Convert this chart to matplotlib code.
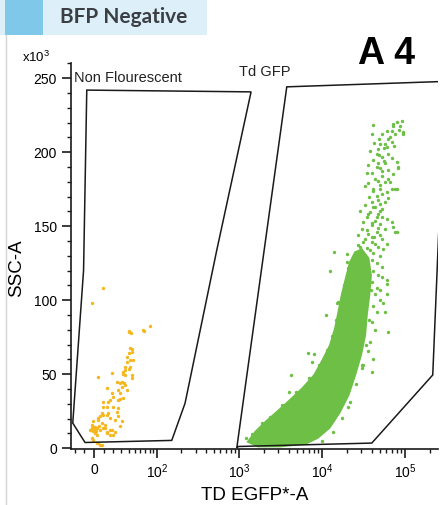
import numpy as np
import matplotlib.pyplot as plt
from matplotlib.patches import Rectangle
from matplotlib.lines import Line2D
from matplotlib.ticker import FixedLocator, NullFormatter

plt.rcParams['font.family'] = ['Liberation Sans', 'DejaVu Sans']
plt.rcParams['mathtext.fontset'] = 'custom'
plt.rcParams['mathtext.rm'] = 'Liberation Sans'

# ---- data (TD EGFP*-A, SSC-A in x10^3) ----
# orange: non fluorescent events (linear FITC values)
orange_fitc = [-2.3, 8.8, 39.9, 44.2, 67.5, 81.4, 45.3, 39.9, 47, 37.5, 42.5, 35, 32.7, 45.3,
               4.3, 18.4, 30.5, 35, 24.2, 37.5, 12.9, 28.3, 20.2, 26.1, 32.7, 14.7, 9.4, 20.2,
               26.1, 7.7, 12.9, 4.3, 16.5, 26.1, 30.5, -0.7, 7.7, -2.3, 1.0, 6.0, 11.2, 16.5,
               22.2, 12.9, 28.3, 2.7, -0.7, 4.3, 7.7, -4, -1.5, 0, 2, -1, 1, 11.2, 9.4, 12.9,
               16.5, 20.2, 18.4, 4.3, 6.0, 9.4, 14.7, 22.2, 24.2, 12.9, 9.4, 16.5, 28.3, 18.4,
               26.1, 30.5, 33.5, 28.3, 35, 32.7, 39.9, 35, 45.3, 42.5, 37.5, 45.3, 42.5, 39.9,
               66, -2.3, 2.7, 6.0, -3, 3, 0.5, 5, -2]
orange_ssc = [97.8, 108.2, 79.3, 77.6, 79.3, 82.5, 66.8, 64.1, 59.6, 58.5, 54.7, 52.8, 50.2, 47.3,
              48.3, 51, 45, 42.7, 45, 39.3, 40.6, 37.2, 34.9, 32.7, 33.8, 31.5, 28.1, 28.1,
              27.1, 23.7, 22.6, 20.3, 20.3, 21.5, 18.1, 18.1, 17, 13.6, 12.5, 12.5, 13.6, 12.5,
              11.3, 10.2, 14.7, 9.1, 5.7, 3.5, 2.3, 12.5, 14.1, 13.1, 11.8, 11.8, 14.2, 15.8, 13.6, 11.3,
              9.1, 9.1, 12.5, 19.2, 21.5, 22.6, 23.7, 19.2, 24.8, 28.1, 31.5, 32.7, 33.1, 37.2,
              39.3, 41.2, 44, 44, 49.5, 51.7, 53.4, 55.1, 49.5, 59.6, 61.8, 65.2, 67.9, 78.7,
              79.8, 6.8, 3.5, 2.3, 12, 13.5, 10.5, 15, 15.5]

# green: Td GFP events, sparse points (log10 of FITC value)
green_log = [4.90, 4.94, 4.86, 4.84, 4.60, 4.72, 4.88, 4.98, 4.80, 4.70, 4.76, 4.84, 4.67, 4.78,
             4.66, 4.72, 4.67, 4.90, 4.76, 4.92, 4.70, 4.54, 4.73, 4.67, 4.80, 4.82, 4.52, 4.61,
             4.70, 4.84, 4.88, 4.66, 4.73, 4.80, 4.60, 4.70, 4.64, 4.73, 4.46, 4.58, 4.67, 4.54,
             4.64, 4.73, 4.60, 4.70, 4.84, 4.54, 4.66, 4.86, 4.90, 4.44, 4.60, 4.72, 4.50, 4.64,
             4.46, 4.58, 4.74, 4.14, 4.30, 4.40, 4.50, 4.30, 4.38, 4.72, 4.34, 4.72, 4.30, 4.78,
             4.70, 4.28, 4.78, 4.20, 4.74, 4.96, 4.98, 4.92, 4.90, 4.88, 4.78, 4.76, 4.80, 3.83,
             3.63, 4.60, 4.49, 4.18, 4.48, 4.32, 3.09, 3.88,
             3.16, 3.28, 3.37, 3.52, 3.69, 3.84, 3.96, 4.06, 4.12, 4.17, 4.22, 4.27, 4.31,
             4.59, 4.57, 4.53, 4.48, 4.41, 4.34, 4.24, 4.13, 4.00,
             4.62, 4.86, 4.93, 4.78, 4.69, 4.82, 4.63, 4.75, 4.87, 4.58, 4.69, 4.80, 4.62, 4.75,
             4.84, 4.56, 4.66, 4.80, 4.60, 4.72, 4.86, 4.64, 4.76, 4.55, 4.70, 4.62, 4.78, 4.57,
             4.68, 4.76, 4.52, 4.62, 4.70, 4.56, 4.66, 4.78, 4.50, 4.60, 4.68, 4.76, 4.48, 4.56,
             4.63, 4.70, 4.52, 4.60, 4.67, 4.78, 4.44, 4.54, 4.62, 4.70, 4.42, 4.50, 4.60, 4.66,
             4.46, 4.56, 4.62, 4.68, 4.40, 4.50, 4.60, 4.66, 4.36, 4.64, 4.70, 4.62, 4.66, 4.60,
             4.64, 4.58, 4.55, 4.62,
             4.10, 4.05, 3.90, 3.60]
green_ssc = [220.1, 217.8, 217.8, 214.4, 212.4, 212.4, 212.4, 212.4, 209.1, 205.8, 205.8, 206.6,
             202.4, 203.2, 199, 196.5, 192.5, 193.1, 192.5, 189.2, 189.2, 185.8, 184.2, 180.8,
             182.1, 179.5, 177.4, 175.4, 175.4, 175.4, 175.4, 170.7, 172, 168.7, 166.2, 165.3,
             162.8, 161.9, 160.4, 159.5, 158.5, 156.1, 153.8, 156.1, 150.5, 151.8, 152.7, 147.1,
             146, 149.3, 146, 143.8, 142.6, 141.6, 139.2, 138.2, 135.8, 133.7, 134.8, 132.6,
             131.4, 129.2, 128.1, 125.8, 122.4, 122.4, 118, 115.7, 111.2, 111.2, 106.7, 104.5,
             104.5, 98.8, 97.8, 221.2, 213.3, 189.7, 175.4, 146, 113.4, 92.1, 78.7, 64.1,
             49.5, 51.7, 56.2, 97.8, 54, 28.1, 6.8, 58.5,
             9.8, 17.2, 21.2, 29.3, 38, 47.5, 56.2, 66.3, 75.8, 86.5, 98, 110.1, 121.5,
             106.7, 86.5, 69.7, 56.2, 43.4, 31.3, 20.5, 11.1, 5.1,
             218, 219, 215, 214, 209, 210, 206, 203, 204, 201, 198, 199, 195, 194,
             196, 191, 190, 188, 186, 187, 185, 182, 180, 179, 178, 174, 173, 170,
             168, 166, 164, 163, 160, 158, 156, 155, 153, 152, 149, 148, 148, 145,
             143, 144, 141, 139, 136, 138, 137, 135, 132, 130, 131, 129, 127, 125,
             124, 122, 120, 117, 119, 117, 112, 108, 113, 104, 100, 96, 92, 85,
             80, 72, 66, 60,
             120, 90, 64, 38]

# green: outline of the dense body (log10 FITC, SSC)
dense_log = [3.11, 3.20, 3.31, 3.46, 3.62, 3.77, 3.91, 4.01, 4.10, 4.16, 4.20, 4.24, 4.29, 4.34,
             4.40, 4.48, 4.56, 4.59, 4.57, 4.54, 4.52, 4.47, 4.40, 4.32, 4.21, 4.09, 3.95, 3.80,
             3.50, 3.23]
dense_ssc = [4.4, 11.1, 17.2, 24.6, 32.7, 40.7, 49.5, 59.6, 69.7, 81.1, 91.9, 103.4, 114.8, 125.6,
             132.3, 134.3, 128.3, 116.8, 103.4, 89.9, 76.4, 62.9, 49.5, 36, 23.9, 13.8, 7.1, 3,
             1.3, 1.3]

# gates
gate1_x = [-7.3, -10.6, -22.5, -9.1, 153.3, 223.3, 540.7, 1402]
gate1_y = [241.9, 120.2, 17, 3.9, 5.3, 30.4, 133.7, 240.7]
gate2_x = [943, 3776, 400000, 255000, 216500, 39900, 985]
gate2_y = [0.1, 244.1, 248, 145, 49.5, 3.5, 1.2]

xticks_major = [0, 1e2, 1e3, 1e4, 1e5]
xtick_labels = ['0', r'$\mathregular{10^2}$', r'$\mathregular{10^3}$',
                r'$\mathregular{10^4}$', r'$\mathregular{10^5}$']
xticks_minor = [-20, -10, 10, 20, 30, 40, 50, 60, 70, 80, 90] + \
    [m * 10 ** k for k in (2, 3, 4) for m in range(2, 10)] + [2e5]
yticks_major = [0, 50, 100, 150, 200, 250]

GREEN = '#6dbf45'
ORANGE = '#f4b71e'

W, H = 448, 505
fig = plt.figure(figsize=(W / 100, H / 100), dpi=100)
ax = fig.add_axes([71 / W, 1 - 449 / H, (437.5 - 71) / W, (449 - 63.3) / H])

C = 36.0
def fwd(x):
    return np.arcsinh(np.asarray(x) / C) / np.log(10)
def inv(u):
    return C * np.sinh(np.asarray(u) * np.log(10))
ax.set_xscale('function', functions=(fwd, inv))
ax.set_xlim(-24.6, 247000)
ax.set_ylim(-0.5, 260)

# events
ax.fill(10 ** np.array(dense_log), dense_ssc, color=GREEN, lw=1.5, zorder=2)
ax.scatter(10 ** np.array(green_log), green_ssc, s=6, color=GREEN, lw=0, zorder=2)
ax.scatter(orange_fitc, orange_ssc, s=6, color=ORANGE, lw=0, zorder=2)

# gates
ax.fill(gate1_x, gate1_y, fill=False, ec='#1a1a1a', lw=1.1, zorder=3)
ax.fill(gate2_x, gate2_y, fill=False, ec='#1a1a1a', lw=1.1, zorder=3)
ax.text(-21.6, 250.2, 'Non Flourescent', fontsize=10.5, ha='left', va='center', color='#222222')
ax.text(1000, 254, 'Td GFP', fontsize=10.5, ha='left', va='center', color='#222222')

# axes styling
for s in ('top', 'right'):
    ax.spines[s].set_visible(False)
for s in ('left', 'bottom'):
    ax.spines[s].set_linewidth(1.2)
    ax.spines[s].set_color('#1a1a1a')
ax.xaxis.set_major_locator(FixedLocator(xticks_major))
ax.set_xticklabels(xtick_labels)
ax.xaxis.set_minor_locator(FixedLocator(xticks_minor))
ax.xaxis.set_minor_formatter(NullFormatter())
ax.yaxis.set_major_locator(FixedLocator(yticks_major))
ax.yaxis.set_minor_locator(FixedLocator(np.arange(0, 261, 10)))
ax.tick_params(which='major', length=6.5, width=1.2, labelsize=10, pad=3.5, color='#1a1a1a')
ax.tick_params(which='minor', length=3, width=1.0, color='#1a1a1a')
ax.set_xlabel('TD EGFP*-A', fontsize=13.5, labelpad=4)
ax.set_ylabel('SSC-A', fontsize=13.5, labelpad=6)
ax.yaxis.set_label_coords(-0.125, 0.47)

# panel header and labels
fig.add_artist(Rectangle((0, 1 - 35 / H), 207 / W, 35 / H, transform=fig.transFigure,
                         color='#ddeff9', lw=0))
fig.add_artist(Rectangle((5 / W, 1 - 35 / H), 38 / W, 35 / H, transform=fig.transFigure,
                         color='#7fc8e9', lw=0))
fig.add_artist(Line2D([6 / W, 6 / W], [0, 1 - 35 / H], transform=fig.transFigure,
                      color='#d6d6d6', lw=1))
fig.text(60 / W, 1 - 17 / H, 'BFP Negative', fontsize=15, fontweight='bold', family='Lato',
         color='#3b3f44', ha='left', va='center')
fig.text(387 / W, 1 - 54 / H, 'A 4', fontsize=27, fontweight='bold', color='black',
         ha='center', va='center')
fig.text(22 / W, 1 - 57 / H, 'x10$^{3}$', fontsize=9.5, ha='left', va='center')

fig.savefig('out.png', dpi=100)
